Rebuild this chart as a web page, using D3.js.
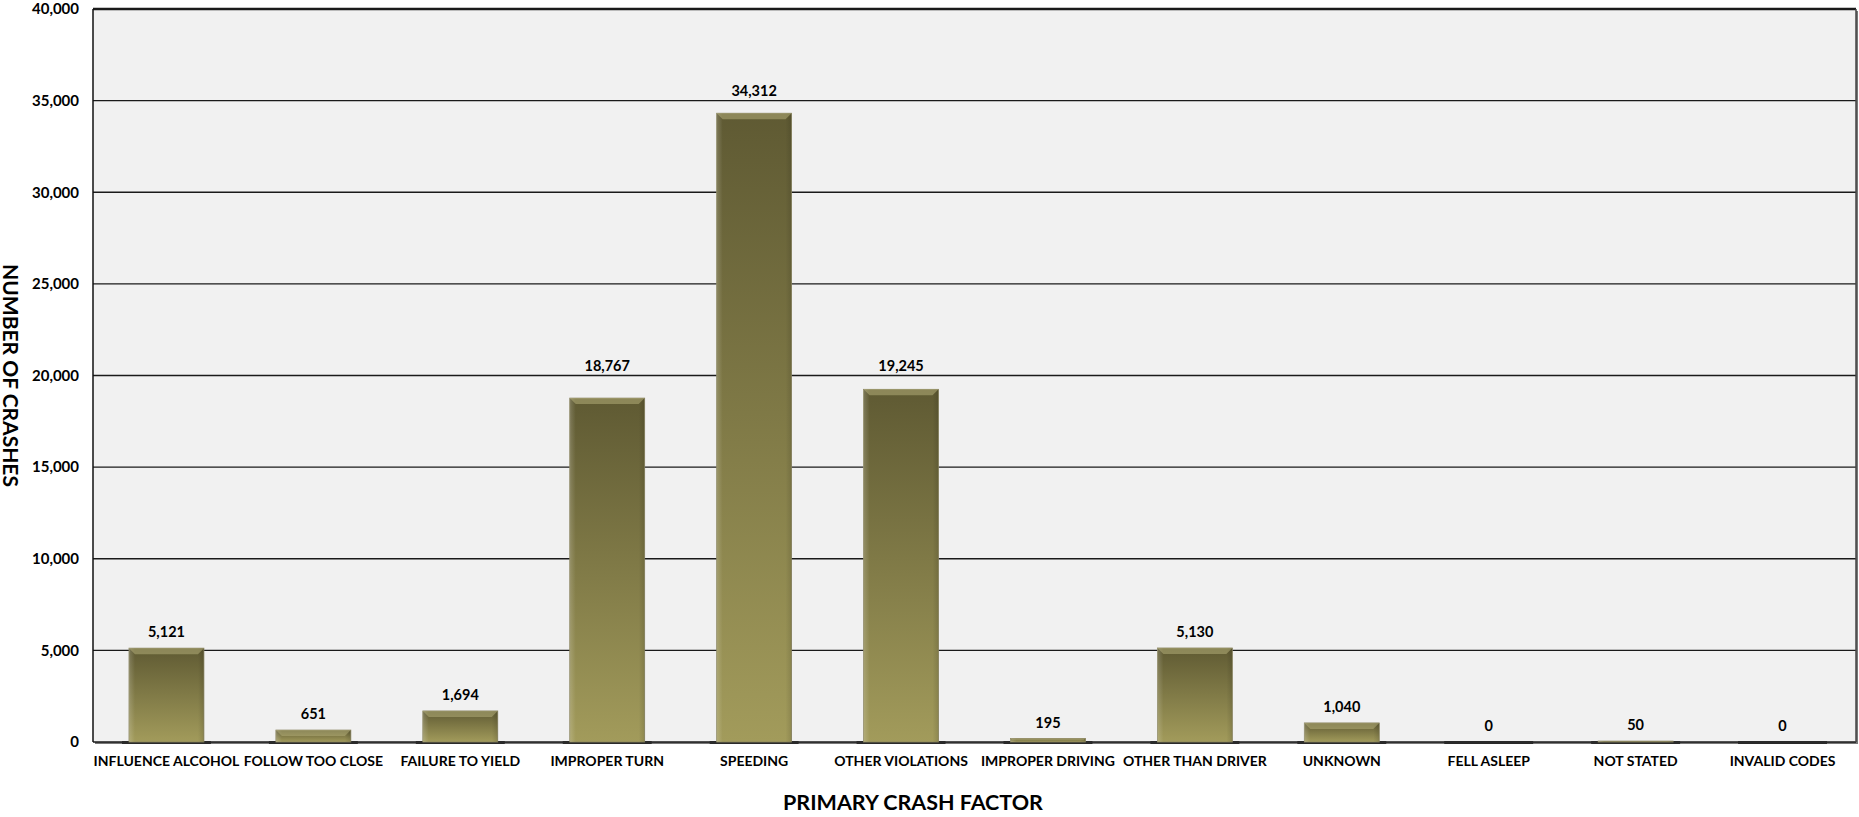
<!DOCTYPE html>
<html>
<head>
<meta charset="utf-8">
<script src="https://cdn.jsdelivr.net/npm/d3@7"></script>
<style>
  body { margin: 0; background: #ffffff; }
  svg text { font-family: Lato, "Open Sans", sans-serif; font-weight: bold; fill: #000; }
</style>
</head>
<body>
<div id="chart"></div>
<script>
// Chart data
const categories = [
  'INFLUENCE ALCOHOL', 'FOLLOW TOO CLOSE', 'FAILURE TO YIELD', 'IMPROPER TURN',
  'SPEEDING', 'OTHER VIOLATIONS', 'IMPROPER DRIVING', 'OTHER THAN DRIVER',
  'UNKNOWN', 'FELL ASLEEP', 'NOT STATED', 'INVALID CODES'
];
const crashCounts = [5121, 651, 1694, 18767, 34312, 19245, 195, 5130, 1040, 0, 50, 0];
const yTicks = [0, 5000, 10000, 15000, 20000, 25000, 30000, 35000, 40000];

const width = 1859, height = 817;
const margin = { top: 9, right: 3, bottom: 75, left: 93 };
const plotW = width - margin.left - margin.right;
const plotH = height - margin.top - margin.bottom;

const svg = d3.select('#chart').append('svg')
  .attr('width', width)
  .attr('height', height);

const defs = svg.append('defs');
const grad = defs.append('linearGradient')
  .attr('id', 'barFill').attr('x1', 0).attr('y1', 0).attr('x2', 0).attr('y2', 1);
grad.append('stop').attr('offset', '0%').attr('stop-color', '#5f5a33');
grad.append('stop').attr('offset', '100%').attr('stop-color', '#a29b5b');

const sideGrad = defs.append('linearGradient')
  .attr('id', 'sideFill').attr('x1', 0).attr('y1', 0).attr('x2', 1).attr('y2', 0);
sideGrad.append('stop').attr('offset', '0%').attr('stop-color', '#ffffff').attr('stop-opacity', 0.18);
sideGrad.append('stop').attr('offset', '8%').attr('stop-color', '#ffffff').attr('stop-opacity', 0);
sideGrad.append('stop').attr('offset', '92%').attr('stop-color', '#000000').attr('stop-opacity', 0);
sideGrad.append('stop').attr('offset', '100%').attr('stop-color', '#000000').attr('stop-opacity', 0.12);

const g = svg.append('g')
  .attr('transform', `translate(${margin.left},${margin.top})`);

const x = d3.scaleBand()
  .domain(categories)
  .range([0, plotW])
  .paddingInner(0.49)
  .paddingOuter(0.245);

const y = d3.scaleLinear()
  .domain([0, 40000])
  .range([plotH, 0]);

// plot background + right shadow
g.append('rect')
  .attr('x', 2).attr('y', 2)
  .attr('width', plotW).attr('height', plotH)
  .attr('fill', '#777');
g.append('rect')
  .attr('width', plotW).attr('height', plotH)
  .attr('fill', '#f1f1f1');

// gridlines
g.append('g')
  .selectAll('line')
  .data(yTicks)
  .join('line')
  .attr('x1', 0).attr('x2', plotW)
  .attr('y1', d => y(d)).attr('y2', d => y(d))
  .attr('stroke', '#1a1a1a')
  .attr('stroke-width', d => d === 40000 ? 2.5 : 1.3);

// left / right frame
g.append('line')
  .attr('x1', 0).attr('x2', 0)
  .attr('y1', 0).attr('y2', plotH)
  .attr('stroke', '#111').attr('stroke-width', 1.5);
g.append('line')
  .attr('x1', plotW).attr('x2', plotW)
  .attr('y1', 0).attr('y2', plotH)
  .attr('stroke', '#444').attr('stroke-width', 1.5);

// y axis labels
g.append('g')
  .call(d3.axisLeft(y).tickValues(yTicks).tickSize(0).tickPadding(14).tickFormat(d3.format(',')))
  .call(a => a.select('.domain').remove())
  .selectAll('text')
  .style('font-size', '15px')
  .style('font-family', 'Lato, "Open Sans", sans-serif')
  .style('font-weight', 'bold');

// bars
const bars = g.append('g').selectAll('g.bar')
  .data(categories.map((c, i) => ({ c, v: crashCounts[i] })))
  .join('g').attr('class', 'bar');

// base shadow line under every bar
bars.append('rect')
  .attr('x', d => x(d.c) - 7)
  .attr('y', plotH - 1)
  .attr('width', x.bandwidth() + 14)
  .attr('height', 3)
  .attr('fill', '#2a2a2a');

bars.append('rect')
  .attr('x', d => x(d.c))
  .attr('y', d => y(d.v))
  .attr('width', x.bandwidth())
  .attr('height', d => plotH - y(d.v))
  .attr('fill', 'url(#barFill)')
  .attr('stroke', '#8a8560')
  .attr('stroke-width', 0.8);

bars.append('rect')
  .attr('x', d => x(d.c))
  .attr('y', d => y(d.v))
  .attr('width', x.bandwidth())
  .attr('height', d => plotH - y(d.v))
  .attr('fill', 'url(#sideFill)');

// bevel at the top of each bar
bars.filter(d => plotH - y(d.v) > 3)
  .append('path')
  .attr('d', d => {
    const x0 = x(d.c), x1 = x0 + x.bandwidth(), t = y(d.v);
    const b = Math.min(6, (plotH - t) / 2);
    return `M${x0},${t}L${x1},${t}L${x1 - b},${t + b}L${x0 + b},${t + b}Z`;
  })
  .attr('fill', '#b3ad78')
  .attr('opacity', 0.55);

// value labels, nudged up when they would sit on a gridline
function labelY(v) {
  let cy = y(v) - 16;
  const gy = y(yTicks.reduce((a, b) => Math.abs(y(b) - cy) < Math.abs(y(a) - cy) ? b : a));
  if (Math.abs(cy - gy) < 8) cy = gy - 10;
  return cy;
}
bars.append('text')
  .attr('x', d => x(d.c) + x.bandwidth() / 2)
  .attr('y', d => labelY(d.v))
  .attr('dy', '0.35em')
  .attr('text-anchor', 'middle')
  .style('font-size', '14.5px')
  .text(d => d3.format(',')(d.v));

// x axis labels
g.append('g')
  .attr('transform', `translate(0,${plotH})`)
  .call(d3.axisBottom(x).tickSize(0).tickPadding(14))
  .call(a => a.select('.domain').remove())
  .selectAll('text')
  .style('font-size', '14px')
  .style('font-family', 'Lato, "Open Sans", sans-serif')
  .style('font-weight', 'bold');

// axis titles
svg.append('text')
  .attr('x', 913)
  .attr('y', 810)
  .attr('text-anchor', 'middle')
  .style('font-size', '21.5px')
  .text('PRIMARY CRASH FACTOR');

svg.append('text')
  .attr('transform', `translate(3,${margin.top + plotH / 2}) rotate(90)`)
  .attr('text-anchor', 'middle')
  .style('font-size', '21px')
  .text('NUMBER OF CRASHES');
</script>
</body>
</html>
